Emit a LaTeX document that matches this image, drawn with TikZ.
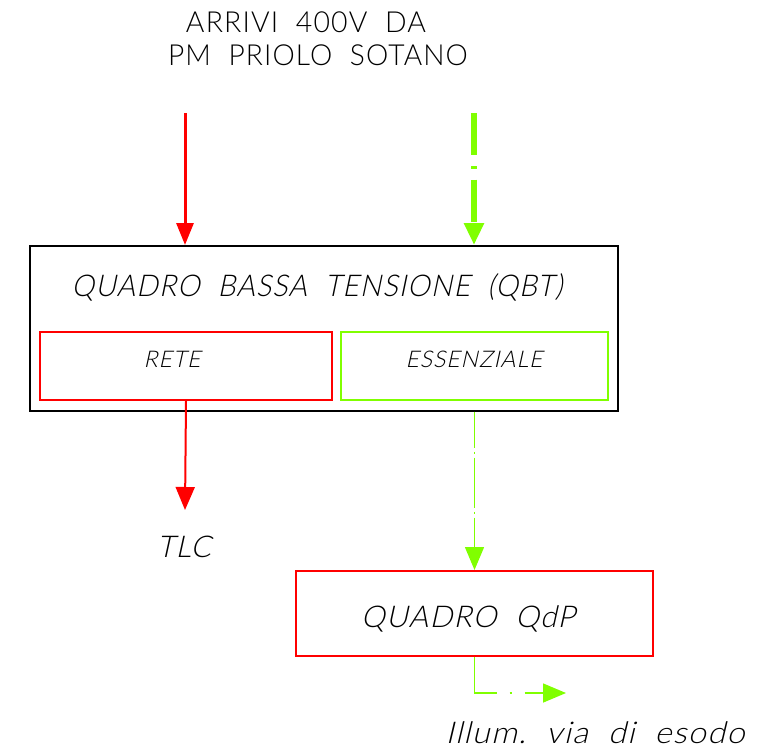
\documentclass[tikz,border=0pt]{standalone}
\usepackage{fontspec}
\usetikzlibrary{arrows.meta}
\newfontfamily\cadfont{Lato Light}[LetterSpace=4]
\newfontfamily\caditfont{Lato Light}[FakeSlant=0.22,LetterSpace=4]
\definecolor{cadred}{RGB}{255,0,0}
\definecolor{cadgreen}{RGB}{128,255,0}
\tikzset{
  txt/.style={inner sep=0pt, text=black, font=\cadfont\fontsize{29}{29}\selectfont},
  ittxt/.style={inner sep=0pt, text=black, font=\caditfont\fontsize{30}{30}\selectfont},
  smalltxt/.style={inner sep=0pt, text=black, font=\caditfont\fontsize{23}{23}\selectfont},
  boxstyle/.style={rectangle, inner sep=0pt, anchor=north west},
}
\begin{document}
\begin{tikzpicture}[x=1pt,y=-1pt]
\useasboundingbox (0,0) rectangle (778,752);
% titles
\node[txt] (title1) at (306,22) {\scalebox{0.98}[1]{ARRIVI\ \ 400V\ \ DA}};
\node[txt] (title2) at (318,55) {\scalebox{0.97}[1]{PM\ \ PRIOLO\ \ SOTANO}};
% main box
\node[boxstyle, draw=black, line width=1.5pt, minimum width=588pt, minimum height=165pt] (qbt) at (29,245) {};
\node[ittxt] (qbtlabel) at (317,287) {\scalebox{0.946}[1]{QUADRO\ \ BASSA\ \ TENSIONE\ \ (QBT)}};
\node[boxstyle, draw=cadred, line width=2pt, minimum width=292pt, minimum height=68pt] (rete) at (39,331) {};
\node[smalltxt] (retelabel) at (172,359) {RETE};
\node[boxstyle, draw=cadgreen, line width=2pt, minimum width=267pt, minimum height=68pt] (ess) at (340,331) {};
\node[smalltxt] (esslabel) at (474,359) {ESSENZIALE};
% QdP box
\node[boxstyle, draw=cadred, line width=2pt, minimum width=357pt, minimum height=85pt] (qdp) at (295,570) {};
\node[ittxt] (qdplabel) at (468,619) {QUADRO\ \ QdP};
% labels
\node[ittxt] (tlc) at (184,547) {TLC};
\node[ittxt] (illum) at (595,733) {\scalebox{1.08}[1]{Illum.\ \ via\ \ di\ \ esodo}};
% coordinates
\coordinate (rin) at (185,113);
\coordinate (gin) at (474,113);
\coordinate (tlcend) at (185,510);
\coordinate (exitend) at (566,693);
% incoming arrows
\draw[cadred, line width=3pt, -{Triangle[length=22pt,width=17pt]}] (rin) -- (rin |- qbt.north);
\draw[cadgreen, line width=6pt, dash pattern=on 42pt off 11pt on 2.5pt off 11pt, -{Triangle[length=22pt,width=19pt]}] (gin) -- (gin |- qbt.north);
% outgoing
\draw[cadred, line width=2pt, -{Triangle[length=23pt,width=19pt]}] (rete.south) -- (tlcend);
\draw[cadgreen, line width=1.5pt, dash pattern=on 50pt off 4pt on 2pt off 4pt, dash phase=14pt, -{Triangle[length=23pt,width=19pt]}] (ess.south |- qbt.south) -- (qdp.north);
\draw[cadgreen, line width=1.5pt, dash pattern=on 58pt off 13pt on 2pt off 13pt, -{Triangle[length=23pt,width=19pt]}] (qdp.south) |- (exitend);
\end{tikzpicture}
\end{document}
